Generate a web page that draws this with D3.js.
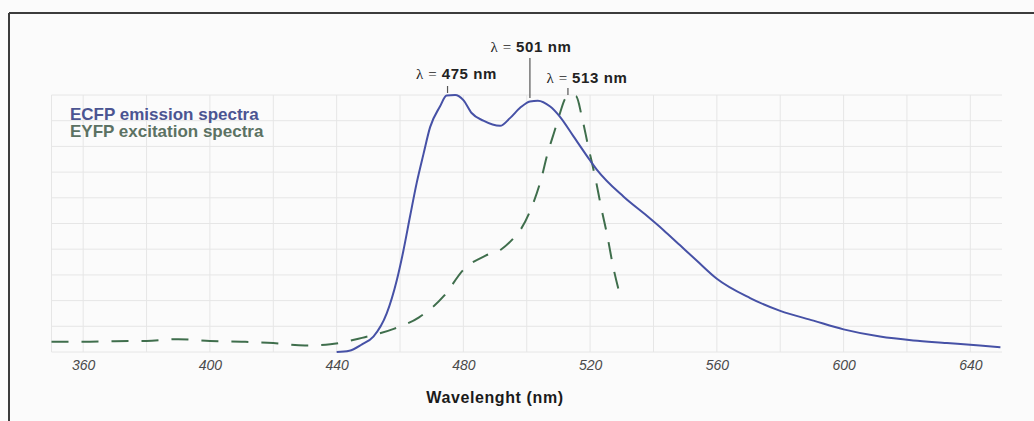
<!DOCTYPE html>
<html lang="en">
<head>
    <meta charset="UTF-8">
    <title>ECFP emission / EYFP excitation spectra</title>
    <script src="https://d3js.org/d3.v7.min.js"></script>
    <style>
        body { margin: 0; background: #fbfbfb; font-family: "Liberation Sans", Arial, sans-serif; }
        .grid line { stroke: #e6e6e6; stroke-width: 1; }
        .x-axis text { font-style: italic; font-size: 14px; fill: #4a4a4a; }
        .x-axis .domain { display: none; }
        .legend { font-weight: bold; font-size: 17px; }
        .note { font-size: 15px; fill: #222; letter-spacing: 0.6px; }
        .note tspan.num { font-weight: bold; }
    </style>
</head>
<body>
    <svg width="1034" height="421"></svg>
    <script>
        // ECFP emission spectrum (wavelength nm, normalised intensity)
        const ecfpWave = [440, 444, 448, 451.6, 455.8, 459, 461, 463.2, 465.3, 467.4, 469.5, 472.6, 474.7, 477.4, 480, 482.6, 486.3, 491.6, 494.7, 497.9, 501, 503.5, 507.4, 510.5, 514.7, 520, 522.1, 530.5, 537.9, 543.1, 548.4, 553.7, 560, 570.5, 580, 590.5, 600, 611.5, 622, 632.6, 643, 649.5];
        const ecfpValue = [0, 0.005, 0.03, 0.06, 0.15, 0.28, 0.39, 0.53, 0.66, 0.77, 0.875, 0.955, 0.998, 1.0, 0.98, 0.93, 0.9, 0.88, 0.91, 0.95, 0.975, 0.978, 0.955, 0.915, 0.84, 0.745, 0.71, 0.605, 0.53, 0.475, 0.415, 0.355, 0.285, 0.21, 0.16, 0.122, 0.088, 0.06, 0.045, 0.035, 0.025, 0.018];

        // EYFP excitation spectrum
        const eyfpWave = [350, 360, 370, 380, 390, 400, 410, 420, 430, 438, 448, 458, 466, 474, 480, 487, 492, 496, 498, 501.6, 504.7, 506.3, 508.9, 510.5, 512.1, 513.7, 515.6, 517.4, 519.4, 521.6, 523.7, 525.3, 527.3, 529.7];
        const eyfpValue = [0.04, 0.04, 0.042, 0.043, 0.05, 0.043, 0.04, 0.035, 0.025, 0.03, 0.055, 0.09, 0.135, 0.22, 0.32, 0.375, 0.4, 0.445, 0.475, 0.565, 0.68, 0.76, 0.865, 0.93, 0.985, 1.0, 0.995, 0.915, 0.8, 0.68, 0.55, 0.46, 0.33, 0.21];

        const xTicks = [360, 400, 440, 480, 520, 560, 600, 640];
        const xGrid = [350, 360, 380, 400, 420, 440, 460, 480, 500, 520, 540, 560, 580, 600, 620, 640];
        const yGrid = [0, 0.1, 0.2, 0.3, 0.4, 0.5, 0.6, 0.7, 0.8, 0.9, 1.0];

        const legendLabels = ["ECFP emission spectra", "EYFP excitation spectra"];
        const peakWave = [475, 501, 513];
        const peakLabel = ["475 nm", "501 nm", "513 nm"];

        const svg = d3.select("svg");

        const xScale = d3.scaleLinear().domain([350, 650]).range([51.5, 1002]);
        const yScale = d3.scaleLinear().domain([0, 1]).range([352, 95]);

        // frame (top + left only)
        svg.append("line").attr("x1", 9).attr("x2", 1034).attr("y1", 13).attr("y2", 13)
            .attr("stroke", "#3c3c3c").attr("stroke-width", 2);
        svg.append("line").attr("x1", 9).attr("x2", 9).attr("y1", 13).attr("y2", 421)
            .attr("stroke", "#3c3c3c").attr("stroke-width", 2);

        // grid
        const grid = svg.append("g").attr("class", "grid");
        grid.selectAll(".v").data(xGrid).enter().append("line")
            .attr("x1", d => xScale(d)).attr("x2", d => xScale(d))
            .attr("y1", yScale(1)).attr("y2", yScale(0));
        grid.selectAll(".h").data(yGrid).enter().append("line")
            .attr("x1", xScale(350)).attr("x2", xScale(650))
            .attr("y1", d => yScale(d)).attr("y2", d => yScale(d));

        // x axis
        svg.append("g")
            .attr("class", "x-axis")
            .attr("transform", `translate(0,${yScale(0)})`)
            .call(d3.axisBottom(xScale).tickValues(xTicks).tickSize(0).tickPadding(8).tickFormat(d3.format("d")));

        svg.append("text")
            .attr("x", 495)
            .attr("y", 403)
            .attr("text-anchor", "middle")
            .attr("font-weight", "bold")
            .attr("font-size", "16px")
            .attr("letter-spacing", "0.6px")
            .attr("fill", "#1a1a1a")
            .text("Wavelenght (nm)");

        const line = d3.line()
            .x(d => xScale(d[0]))
            .y(d => yScale(d[1]))
            .curve(d3.curveMonotoneX);

        // EYFP excitation (dashed)
        svg.append("path")
            .datum(d3.zip(eyfpWave, eyfpValue))
            .attr("fill", "none")
            .attr("stroke", "#3f6e4c")
            .attr("stroke-width", 2)
            .attr("stroke-dasharray", "17,13")
            .attr("d", line);

        // ECFP emission
        svg.append("path")
            .datum(d3.zip(ecfpWave, ecfpValue))
            .attr("fill", "none")
            .attr("stroke", "#4651a6")
            .attr("stroke-width", 2)
            .attr("d", line);

        // legend
        const legendColors = ["#4b5592", "#5c7263"];
        svg.selectAll(".legend").data(legendLabels).enter().append("text")
            .attr("class", "legend")
            .attr("x", 70)
            .attr("y", (d, i) => 120 + i * 17)
            .attr("fill", (d, i) => legendColors[i])
            .text(d => d);

        // peak annotations
        const noteY = [79, 52, 83];
        const noteDx = [9, 1, 19];
        const tickTop = [86, 58, 88];
        const tickBottom = [93, 98, 95];
        peakWave.forEach((w, i) => {
            svg.append("line")
                .attr("x1", xScale(w)).attr("x2", xScale(w))
                .attr("y1", tickTop[i]).attr("y2", tickBottom[i])
                .attr("stroke", "#555").attr("stroke-width", 1.2);
            const t = svg.append("text")
                .attr("class", "note")
                .attr("x", xScale(w) + noteDx[i])
                .attr("y", noteY[i])
                .attr("text-anchor", "middle");
            t.append("tspan").attr("font-family", "Liberation Serif, serif").text("\u03bb = ");
            t.append("tspan").attr("class", "num").text(peakLabel[i]);
        });
    </script>
</body>
</html>
